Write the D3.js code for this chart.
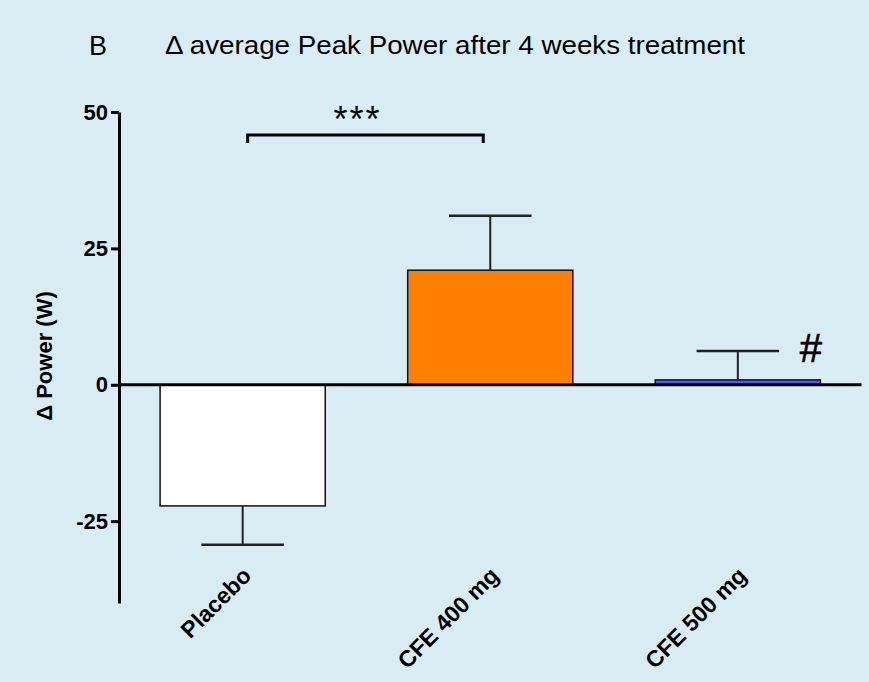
<!DOCTYPE html>
<html>
<head>
<meta charset="utf-8">
<script src="https://cdn.jsdelivr.net/npm/d3@7"></script>
<style>
	body { margin: 0; background: #daecf3; }
	svg { display: block; }
	text { font-family: Arial, 'Liberation Sans', sans-serif; fill: #000; }
</style>
</head>
<body>
<svg width="869" height="682"></svg>
<script>
const groups = ['Placebo', 'CFE 400 mg', 'CFE 500 mg'];
const means = [-22.2, 21.0, 0.9];
const errors = [7.1, 10.0, 5.3];
const fills = ['#ffffff', '#ff8000', '#5555ff'];
const yTicks = [-25, 0, 25, 50];

const svg = d3.select('svg'),
	width = 869,
	height = 682;

svg.append('rect').attr('width', width).attr('height', height).attr('fill', '#daecf3');

const x = d3.scaleBand()
	.domain(groups)
	.range([119, 861.5])
	.paddingInner(0.333)
	.paddingOuter(0.166);

const y = d3.scaleLinear()
	.domain([-40, 50])
	.range([603, 112]);

// title
svg.append('text').attr('x', 89).attr('y', 55).attr('font-size', 27).text('B');
svg.append('text').attr('x', 165).attr('y', 54).attr('font-size', 26)
	.attr('textLength', 580).attr('lengthAdjust', 'spacingAndGlyphs')
	.text('\u0394 average Peak Power after 4 weeks treatment');

// bars
svg.append('g').selectAll('rect')
	.data(groups)
	.enter().append('rect')
	.attr('x', d => x(d))
	.attr('width', x.bandwidth())
	.attr('y', (d, i) => y(Math.max(0, means[i])))
	.attr('height', (d, i) => Math.abs(y(means[i]) - y(0)))
	.attr('fill', (d, i) => fills[i])
	.attr('stroke', '#111')
	.attr('stroke-width', 1.5);

// error bars, drawn away from zero only
const err = svg.append('g').attr('stroke', '#222').attr('stroke-width', 2);
groups.forEach((g, i) => {
	let cx = x(g) + x.bandwidth() / 2;
	let end = means[i] < 0 ? means[i] - errors[i] : means[i] + errors[i];
	let capW = x.bandwidth() / 2;
	err.append('line').attr('x1', cx).attr('x2', cx).attr('y1', y(means[i])).attr('y2', y(end));
	err.append('line').attr('x1', cx - capW / 2).attr('x2', cx + capW / 2).attr('y1', y(end)).attr('y2', y(end))
		.attr('stroke-width', 2.5);
});

// zero line
svg.append('line')
	.attr('x1', 119).attr('x2', x.range()[1])
	.attr('y1', y(0)).attr('y2', y(0))
	.attr('stroke', '#000').attr('stroke-width', 3);

// y axis
const yAxis = svg.append('g')
	.attr('transform', 'translate(119,0)')
	.call(d3.axisLeft(y).tickValues(yTicks).tickFormat(d => String(d))
		.tickSize(8).tickSizeOuter(0).tickPadding(3));
yAxis.select('.domain').attr('stroke-width', 3);
yAxis.selectAll('.tick line').attr('stroke-width', 3);
yAxis.selectAll('.tick text')
	.attr('font-size', 22).attr('font-weight', 'bold')
	.attr('font-family', 'Arial, Liberation Sans, sans-serif');

svg.append('text')
	.attr('transform', 'translate(52,356) rotate(-90)')
	.attr('text-anchor', 'middle')
	.attr('font-size', 22).attr('font-weight', 'bold')
	.text('\u0394 Power (W)');

// x labels
svg.append('g').selectAll('text')
	.data(groups)
	.enter().append('text')
	.attr('transform', d => 'translate(' + (x(d) + x.bandwidth() / 2 + 10) + ',577) rotate(-45)')
	.attr('text-anchor', 'end')
	.attr('font-size', 23).attr('font-weight', 'bold')
	.text(d => d);

// significance bracket
const bx1 = x(groups[0]) + x.bandwidth() / 2 + 5,
	bx2 = x(groups[1]) + x.bandwidth() / 2 - 7,
	by = 135;
svg.append('path')
	.attr('d', `M${bx1},${by + 8}V${by}H${bx2}V${by + 8}`)
	.attr('fill', 'none').attr('stroke', '#000').attr('stroke-width', 3);
svg.append('text')
	.attr('x', (bx1 + bx2) / 2 - 8).attr('y', 132)
	.attr('text-anchor', 'middle').attr('font-size', 36)
	.attr('letter-spacing', 2)
	.text('***');

const c3 = x(groups[2]) + x.bandwidth() / 2;
svg.append('text')
	.attr('x', c3 + 73).attr('y', 362)
	.attr('text-anchor', 'middle').attr('font-size', 40)
	.attr('font-family', 'DejaVu Sans, sans-serif')
	.attr('stroke', '#000').attr('stroke-width', 0.6)
	.text('#');
</script>
</body>
</html>
